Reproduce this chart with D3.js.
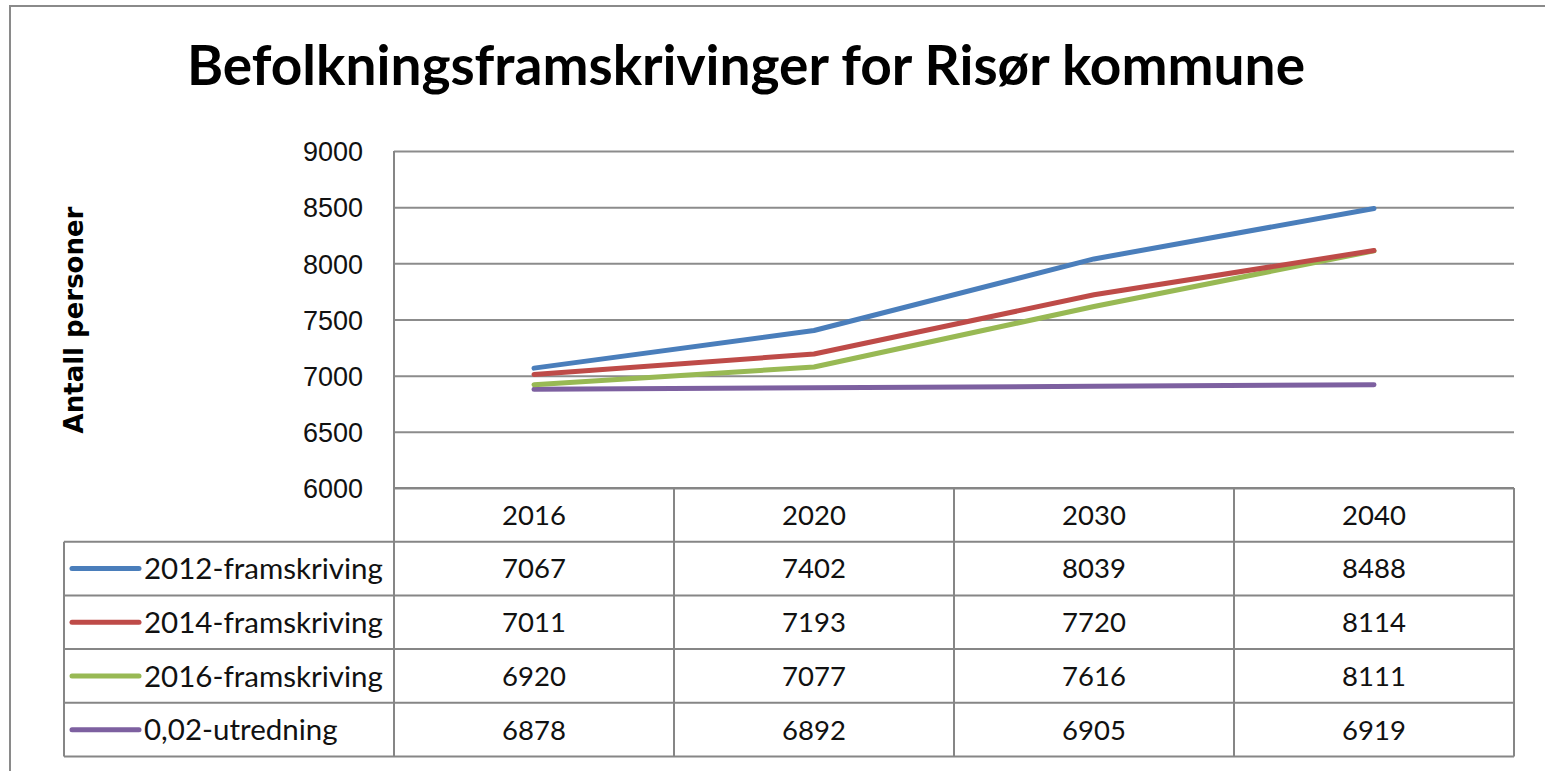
<!DOCTYPE html>
<html lang="no">
<head>
    <meta charset="UTF-8">
    <title>Befolkningsframskrivinger for Risør kommune</title>
    <style>
        body {
            margin: 0;
            background: #fff;
            font-family: 'Lato', 'Noto Sans', sans-serif;
        }
        svg { display: block; }
        .grid line { stroke: #8c8c8c; stroke-width: 2; }
        .grid path { display: none; }
        .ytick text { font-size: 27px; fill: #111; }
        .ytick path, .ytick line { display: none; }
        .cell { font-size: 27.5px; fill: #111; }
        .legendText { font-size: 29.5px; fill: #111; }
    </style>
</head>
<body>
<div id="chart"></div>

<script src="https://d3js.org/d3.v7.min.js"></script>
<script>
    // chart data
    var years = ["2016", "2020", "2030", "2040"];
    var seriesNames = ["2012-framskriving", "2014-framskriving", "2016-framskriving", "0,02-utredning"];
    var values2012 = [7067, 7402, 8039, 8488];
    var values2014 = [7011, 7193, 7720, 8114];
    var values2016 = [6920, 7077, 7616, 8111];
    var values002 = [6878, 6892, 6905, 6919];
    var yTicks = [6000, 6500, 7000, 7500, 8000, 8500, 9000];
    var colors = ["#4a7ebb", "#be4b48", "#98b954", "#7d60a0"];

    var allSeries = [values2012, values2014, values2016, values002];

    var w = 1545, h = 771;
    var plotLeft = 394, plotRight = 1514, plotTop = 151, plotBottom = 488;
    var legendLeft = 64;
    var rowH = 53.7;

    var svg = d3.select("#chart").append("svg")
        .attr("width", w)
        .attr("height", h);

    // outer frame (only top and left edges visible)
    svg.append("rect")
        .attr("x", 10).attr("y", 6)
        .attr("width", w + 20).attr("height", h + 20)
        .attr("fill", "none")
        .attr("stroke", "#8a8a8a")
        .attr("stroke-width", 2);

    // title
    svg.append("text")
        .attr("x", 746).attr("y", 85)
        .attr("text-anchor", "middle")
        .attr("font-size", 55)
        .attr("font-weight", "bold")
        .attr("fill", "#000")
        .text("Befolkningsframskrivinger for Risør kommune");

    var x = d3.scaleBand().domain(years).range([plotLeft, plotRight]);
    var y = d3.scaleLinear().domain([6000, 9000]).range([plotBottom, plotTop]);

    // gridlines
    svg.append("g")
        .attr("class", "grid")
        .attr("transform", "translate(" + plotLeft + ",0)")
        .call(d3.axisLeft(y).tickValues(yTicks).tickSize(-(plotRight - plotLeft)).tickFormat(""));

    // y tick labels
    svg.append("g")
        .attr("class", "ytick")
        .attr("transform", "translate(" + (plotLeft - 31) + ",0)")
        .call(d3.axisLeft(y).tickValues(yTicks).tickSize(0).tickPadding(0).tickFormat(d3.format("d")))
        .selectAll("text").attr("dy", "0.36em");

    // y axis title
    svg.append("text")
        .attr("transform", "translate(83,320) rotate(-90)")
        .attr("text-anchor", "middle")
        .attr("font-family", "'DejaVu Sans', sans-serif")
        .attr("font-size", 26)
        .attr("font-weight", "bold")
        .attr("fill", "#000")
        .text("Antall personer");

    // series lines
    var line = d3.line()
        .x(function(d, i) { return x(years[i]) + x.bandwidth() / 2; })
        .y(function(d) { return y(d); });

    svg.selectAll(".series")
        .data(allSeries.slice().reverse())
        .enter()
        .append("path")
        .attr("class", "series")
        .attr("d", line)
        .attr("fill", "none")
        .attr("stroke", function(d, i) { return colors[allSeries.length - 1 - i]; })
        .attr("stroke-width", 5)
        .attr("stroke-linecap", "round")
        .attr("stroke-linejoin", "round");

    // data table
    var tableBottom = plotBottom + rowH * (seriesNames.length + 1);
    var table = svg.append("g")
        .attr("stroke", "#868686")
        .attr("stroke-width", 2);

    // horizontal rules
    table.append("line")
        .attr("x1", plotLeft).attr("x2", plotRight)
        .attr("y1", plotBottom).attr("y2", plotBottom);
    d3.range(1, seriesNames.length + 2).forEach(function(r) {
        table.append("line")
            .attr("x1", legendLeft).attr("x2", plotRight)
            .attr("y1", plotBottom + r * rowH).attr("y2", plotBottom + r * rowH);
    });

    // vertical rules
    table.append("line")
        .attr("x1", legendLeft).attr("x2", legendLeft)
        .attr("y1", plotBottom + rowH).attr("y2", tableBottom);
    table.append("line")
        .attr("x1", plotLeft).attr("x2", plotLeft)
        .attr("y1", plotTop).attr("y2", tableBottom);
    years.forEach(function(yr) {
        var xr = x(yr) + x.bandwidth();
        table.append("line")
            .attr("x1", xr).attr("x2", xr)
            .attr("y1", plotBottom).attr("y2", tableBottom);
    });

    // header years
    svg.selectAll(".yearLabel")
        .data(years)
        .enter()
        .append("text")
        .attr("class", "cell")
        .attr("x", function(d) { return x(d) + x.bandwidth() / 2; })
        .attr("y", plotBottom + rowH / 2)
        .attr("dy", "0.36em")
        .attr("text-anchor", "middle")
        .text(function(d) { return d; });

    // rows
    allSeries.forEach(function(vals, r) {
        var cy = plotBottom + (r + 1.5) * rowH;
        svg.append("line")
            .attr("x1", legendLeft + 8).attr("x2", legendLeft + 75)
            .attr("y1", cy).attr("y2", cy)
            .attr("stroke", colors[r])
            .attr("stroke-width", 5)
            .attr("stroke-linecap", "round");
        svg.append("text")
            .attr("class", "legendText")
            .attr("x", legendLeft + 80)
            .attr("y", cy)
            .attr("dy", "0.36em")
            .text(seriesNames[r]);
        svg.selectAll(".v" + r)
            .data(vals)
            .enter()
            .append("text")
            .attr("class", "cell")
            .attr("x", function(d, i) { return x(years[i]) + x.bandwidth() / 2; })
            .attr("y", cy)
            .attr("dy", "0.36em")
            .attr("text-anchor", "middle")
            .text(function(d) { return d; });
    });
</script>
</body>
</html>
